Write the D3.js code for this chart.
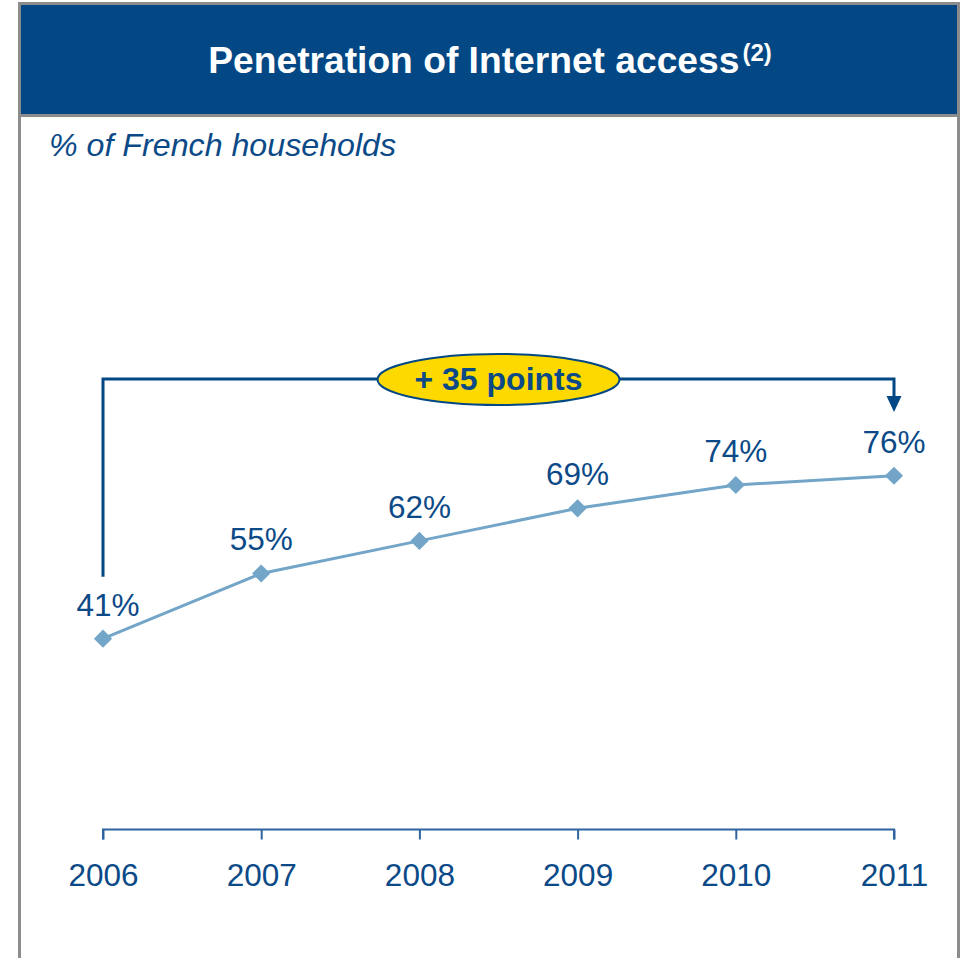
<!DOCTYPE html>
<html>
<head>
<meta charset="utf-8">
<script src="https://cdn.jsdelivr.net/npm/d3@7"></script>
<style>
  html, body { margin: 0; padding: 0; background: #ffffff; }
  svg { display: block; font-family: "Liberation Sans", Arial, Helvetica, sans-serif; }
</style>
</head>
<body>
<svg id="chart" width="964" height="958"></svg>
<script>
// Internet access penetration, share of French households
const years = ["2006", "2007", "2008", "2009", "2010", "2011"];
const penetration = [41, 55, 62, 69, 74, 76];
const title = "Penetration of Internet access";
const titleNote = "(2)";
const subtitle = "% of French households";
const growthLabel = "+ 35 points";

const navy = "#034884";
const textNavy = "#0b4a87";
const lineBlue = "#72a5c8";
const frameGrey = "#8c8c8c";

const svg = d3.select("#chart");

// Panel frame
svg.append("rect")
  .attr("x", 19.5).attr("y", 3.5)
  .attr("width", 939).attr("height", 970)
  .attr("fill", "#ffffff")
  .attr("stroke", frameGrey).attr("stroke-width", 3);

// Header band
svg.append("rect")
  .attr("x", 21).attr("y", 5)
  .attr("width", 936).attr("height", 109)
  .attr("fill", navy);
svg.append("line")
  .attr("x1", 21).attr("x2", 957)
  .attr("y1", 115.5).attr("y2", 115.5)
  .attr("stroke", frameGrey).attr("stroke-width", 3);

const titleText = svg.append("text")
  .attr("x", 490).attr("y", 73)
  .attr("text-anchor", "middle")
  .attr("fill", "#ffffff")
  .attr("font-weight", "bold")
  .attr("font-size", 37.2);
titleText.append("tspan").text(title);
titleText.append("tspan")
  .attr("dx", 3).attr("dy", -12).attr("font-size", 24)
  .text(titleNote);

svg.append("text")
  .attr("x", 49).attr("y", 156)
  .attr("fill", textNavy)
  .attr("font-style", "italic")
  .attr("font-size", 32.2)
  .text(subtitle);

// Scales
const x = d3.scalePoint().domain(years).range([103, 894]);
const y = d3.scaleLinear().domain([0, 100]).range([829.5, 364]);

// X axis: baseline with ticks hanging below it
const axis = d3.axisBottom(x).tickSize(10).tickSizeOuter(0).tickPadding(24.5);
const gAxis = svg.append("g")
  .attr("transform", `translate(0,${y(0)})`)
  .call(axis);
gAxis.select(".domain")
  .attr("stroke", "#2d64a0").attr("stroke-width", 2)
  .attr("d", `M${x(years[0])},10V0H${x(years[years.length - 1])}V10`);
gAxis.selectAll(".tick line").attr("stroke", "#2d64a0").attr("stroke-width", 2);
gAxis.selectAll(".tick text")
  .attr("fill", textNavy)
  .attr("font-size", 31.5)
  .attr("font-family", "'Liberation Sans', Arial, sans-serif")
  .attr("dy", "0.71em");

// Line series
const pts = years.map((yr, i) => ({ year: yr, value: penetration[i] }));
svg.append("path")
  .datum(pts)
  .attr("fill", "none")
  .attr("stroke", lineBlue)
  .attr("stroke-width", 3)
  .attr("d", d3.line().x(d => x(d.year)).y(d => y(d.value)));

const diamond = d3.symbol().type(d3.symbolSquare).size(165);
svg.append("g").selectAll("path")
  .data(pts)
  .join("path")
  .attr("d", diamond)
  .attr("fill", lineBlue)
  .attr("transform", d => `translate(${x(d.year)},${y(d.value)}) rotate(45)`);

// Value labels
svg.append("g").selectAll("text")
  .data(pts)
  .join("text")
  .attr("x", (d, i) => x(d.year) + (i === 0 ? 5 : 0))
  .attr("y", d => y(d.value) - 23)
  .attr("text-anchor", "middle")
  .attr("fill", textNavy)
  .attr("font-size", 31.5)
  .text(d => d.value + "%");

// Growth bracket from first to last year
const first = pts[0], last = pts[pts.length - 1];
const bracketY = 379;
const x0 = x(first.year), x1 = x(last.year);
svg.append("path")
  .attr("d", `M${x0},${y(first.value) - 62}V${bracketY}H${x1}V397`)
  .attr("fill", "none")
  .attr("stroke", navy)
  .attr("stroke-width", 3);
svg.append("path")
  .attr("d", `M${x1 - 7.5},396L${x1 + 7.5},396L${x1},412Z`)
  .attr("fill", navy);

const midX = (x0 + x1) / 2;
svg.append("ellipse")
  .attr("cx", midX).attr("cy", bracketY + 0.5)
  .attr("rx", 121).attr("ry", 25.5)
  .attr("fill", "#fdd900")
  .attr("stroke", navy).attr("stroke-width", 2);
svg.append("text")
  .attr("x", midX).attr("y", 389.5)
  .attr("text-anchor", "middle")
  .attr("fill", textNavy)
  .attr("font-weight", "bold")
  .attr("font-size", 32)
  .text(growthLabel);
</script>
</body>
</html>
